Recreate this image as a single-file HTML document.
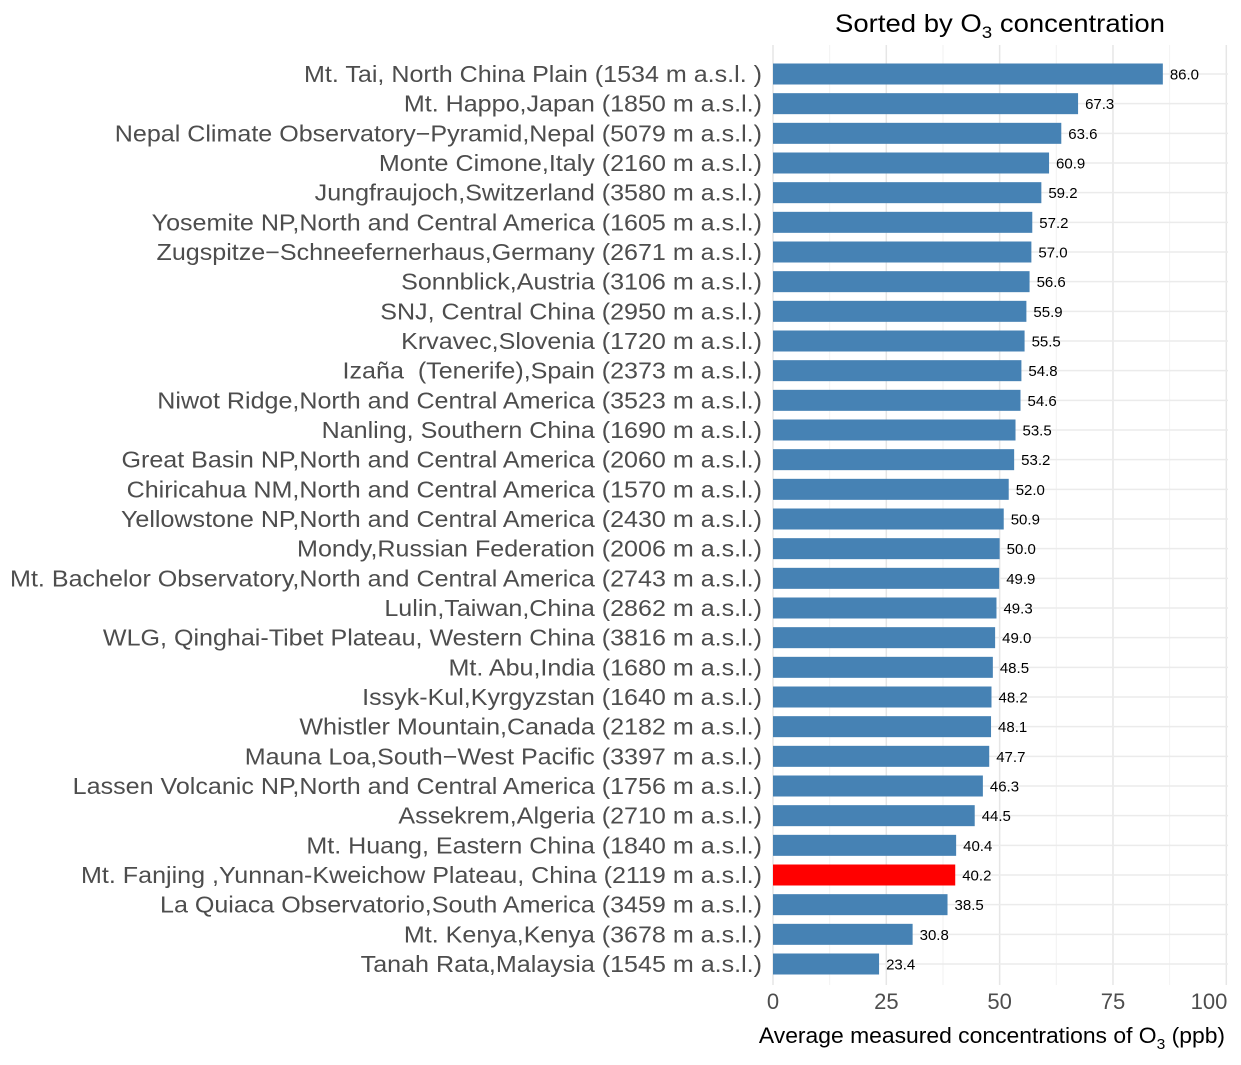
<!DOCTYPE html>
<html><head><meta charset="utf-8"><style>
body{margin:0;background:#fff;font-family:"Liberation Sans",sans-serif;}
</style></head><body>
<svg id="chart" width="1241" height="1060" xmlns="http://www.w3.org/2000/svg" font-family="Liberation Sans, sans-serif">
<text id="title" x="1000" y="32" font-size="25" text-anchor="middle" fill="#000">Sorted by O<tspan font-size="17" dy="6">3</tspan><tspan dy="-6"> concentration</tspan></text>
<g id="grid"></g><g id="bars"></g><g id="ylabels"></g><g id="xticks"></g>
<text id="xtitle" x="992" y="1043" font-size="22" text-anchor="middle" fill="#000">Average measured concentrations of O<tspan font-size="15" dy="6">3</tspan><tspan dy="-6"> (ppb)</tspan></text>
</svg>
<script>
const categories=["Mt. Tai, North China Plain (1534 m a.s.l. )","Mt. Happo,Japan (1850 m a.s.l.)","Nepal Climate Observatory\u2212Pyramid,Nepal (5079 m a.s.l.)","Monte Cimone,Italy (2160 m a.s.l.)","Jungfraujoch,Switzerland (3580 m a.s.l.)","Yosemite NP,North and Central America (1605 m a.s.l.)","Zugspitze\u2212Schneefernerhaus,Germany (2671 m a.s.l.)","Sonnblick,Austria (3106 m a.s.l.)","SNJ, Central China (2950 m a.s.l.)","Krvavec,Slovenia (1720 m a.s.l.)","Izaña \u00a0(Tenerife),Spain (2373 m a.s.l.)","Niwot Ridge,North and Central America (3523 m a.s.l.)","Nanling, Southern China (1690 m a.s.l.)","Great Basin NP,North and Central America (2060 m a.s.l.)","Chiricahua NM,North and Central America (1570 m a.s.l.)","Yellowstone NP,North and Central America (2430 m a.s.l.)","Mondy,Russian Federation (2006 m a.s.l.)","Mt. Bachelor Observatory,North and Central America (2743 m a.s.l.)","Lulin,Taiwan,China (2862 m a.s.l.)","WLG, Qinghai-Tibet Plateau, Western China (3816 m a.s.l.)","Mt. Abu,India (1680 m a.s.l.)","Issyk-Kul,Kyrgyzstan (1640 m a.s.l.)","Whistler Mountain,Canada (2182 m a.s.l.)","Mauna Loa,South\u2212West Pacific (3397 m a.s.l.)","Lassen Volcanic NP,North and Central America (1756 m a.s.l.)","Assekrem,Algeria (2710 m a.s.l.)","Mt. Huang, Eastern China (1840 m a.s.l.)","Mt. Fanjing ,Yunnan-Kweichow Plateau, China (2119 m a.s.l.)","La Quiaca Observatorio,South America (3459 m a.s.l.)","Mt. Kenya,Kenya (3678 m a.s.l.)","Tanah Rata,Malaysia (1545 m a.s.l.)"];
const values=[86.0,67.3,63.6,60.9,59.2,57.2,57.0,56.6,55.9,55.5,54.8,54.6,53.5,53.2,52.0,50.9,50.0,49.9,49.3,49.0,48.5,48.2,48.1,47.7,46.3,44.5,40.4,40.2,38.5,30.8,23.4];
const highlight=["Mt. Fanjing ,Yunnan-Kweichow Plateau, China (2119 m a.s.l.)"];
const xTicks=[0,25,50,75,100];
const NS="http://www.w3.org/2000/svg";
const x=v=>773+v*4.533;
const y=i=>74+i*((964-74)/(categories.length-1));
function mk(t,p,a){const e=document.createElementNS(NS,t);for(const k in a)e.setAttribute(k,a[k]);p.appendChild(e);return e;}
function stretch(el,f){const w=el.getComputedTextLength();el.setAttribute('textLength',w*f);el.setAttribute('lengthAdjust','spacingAndGlyphs');}
const grid=document.getElementById('grid'),bars=document.getElementById('bars'),yl=document.getElementById('ylabels'),xt=document.getElementById('xticks');
for(let v=0;v<=100;v+=12.5){const l=mk('line',grid,{x1:x(v),x2:x(v),y1:45,y2:985,stroke:v%25===0?'#e6e6e6':'#f2f2f2','stroke-width':v%25===0?1.5:1});

}
categories.forEach((c,i)=>{const l=mk('line',grid,{x1:773,x2:1228,y1:y(i),y2:y(i),stroke:'#ebebeb','stroke-width':1.5});


const r=mk('rect',bars,{x:x(0),y:y(i)-10.5,width:x(values[i])-x(0),height:21,fill:highlight.includes(c)?'#ff0000':'#4682b4'});


const t=mk('text',bars,{x:x(values[i])+7,y:y(i)+5.5,'font-size':15,fill:'#000'});t.textContent=values[i].toFixed(1);


const lb=mk('text',yl,{x:762,y:y(i)+8,'font-size':23,'text-anchor':'end',fill:'#4d4d4d'});lb.textContent=c;


stretch(lb,1.09);});
xTicks.forEach(v=>{const t=mk('text',xt,{x:v===100?1209:x(v),y:1009,'font-size':22,'text-anchor':'middle',fill:'#4d4d4d'});t.textContent=v;

});
stretch(document.getElementById('title'),1.1);
stretch(document.getElementById('xtitle'),1.04);
</script>
</body></html>
